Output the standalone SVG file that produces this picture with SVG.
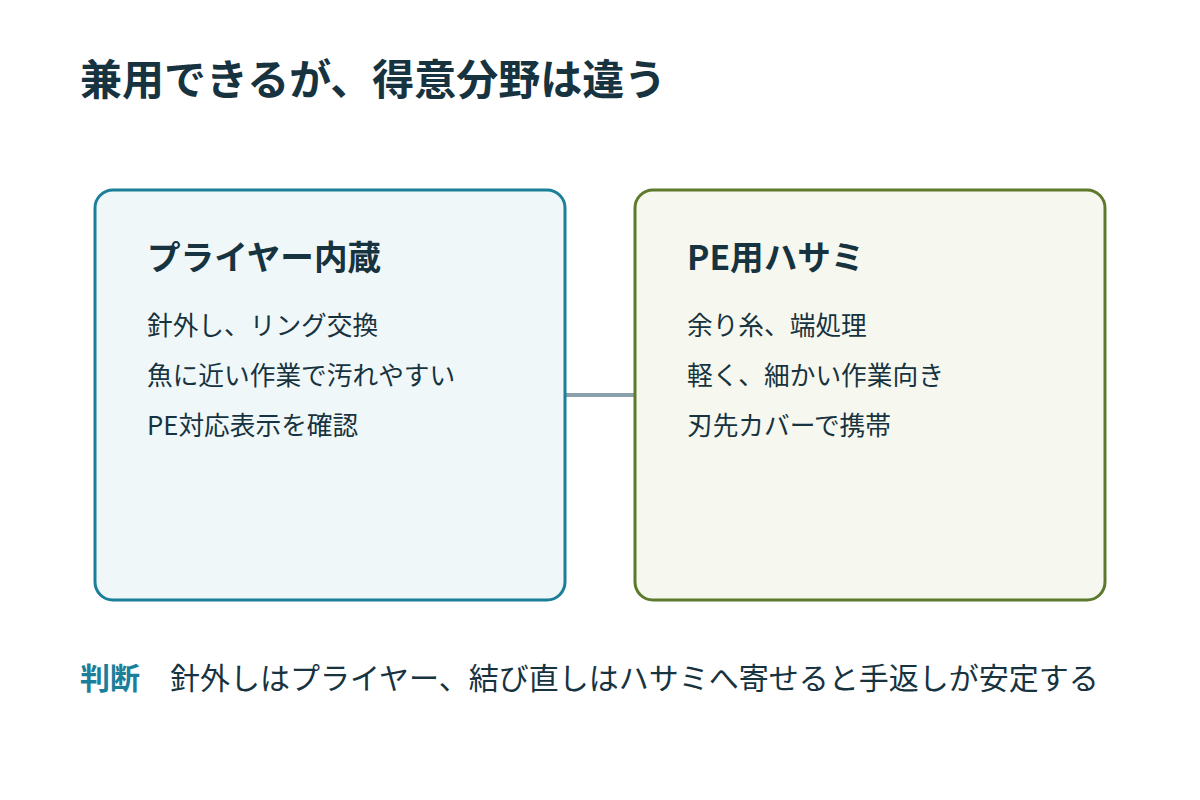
<svg xmlns="http://www.w3.org/2000/svg" width="1200" height="800" viewBox="0 0 1200 800">
<style>
text{font-family:"Noto Sans CJK JP","Noto Sans",sans-serif;fill:#17333f}
.title{font-size:42px;font-weight:700}
.h{font-size:33.6px;font-weight:700}
.it{font-size:25.7px}
.box{stroke-width:3}
</style>
<rect width="1200" height="800" fill="#ffffff"/>
<text class="title" x="80" y="95">兼用できるが、得意分野は違う</text>
<g id="connectors">
<line x1="566" y1="395" x2="634" y2="395" stroke="#8aa0ab" stroke-width="4"/>
</g>
<g id="node-plier">
<rect class="box" x="95" y="190" width="470" height="410" rx="18" fill="#f0f7f9" stroke="#1b7f9a"/>
<text class="h" x="147" y="270">プライヤー内蔵</text>
<text class="it" x="147" y="335">針外し、リング交換</text>
<text class="it" x="147" y="385">魚に近い作業で汚れやすい</text>
<text class="it" x="147" y="435">PE対応表示を確認</text>
</g>
<g id="node-scissors">
<rect class="box" x="635" y="190" width="470" height="410" rx="18" fill="#f6f8ef" stroke="#5d7a2c"/>
<text class="h" x="687" y="270">PE用ハサミ</text>
<text class="it" x="687" y="335">余り糸、端処理</text>
<text class="it" x="687" y="385">軽く、細かい作業向き</text>
<text class="it" x="687" y="435">刃先カバーで携帯</text>
</g>
<g id="verdict">
<text x="80" y="689" style="font-size:30px;font-weight:700;fill:#1b7f9a">判断</text>
<text x="170" y="689" style="font-size:30px">針外しはプライヤー、結び直しはハサミへ寄せると手返しが安定する</text>
</g>
</svg>
